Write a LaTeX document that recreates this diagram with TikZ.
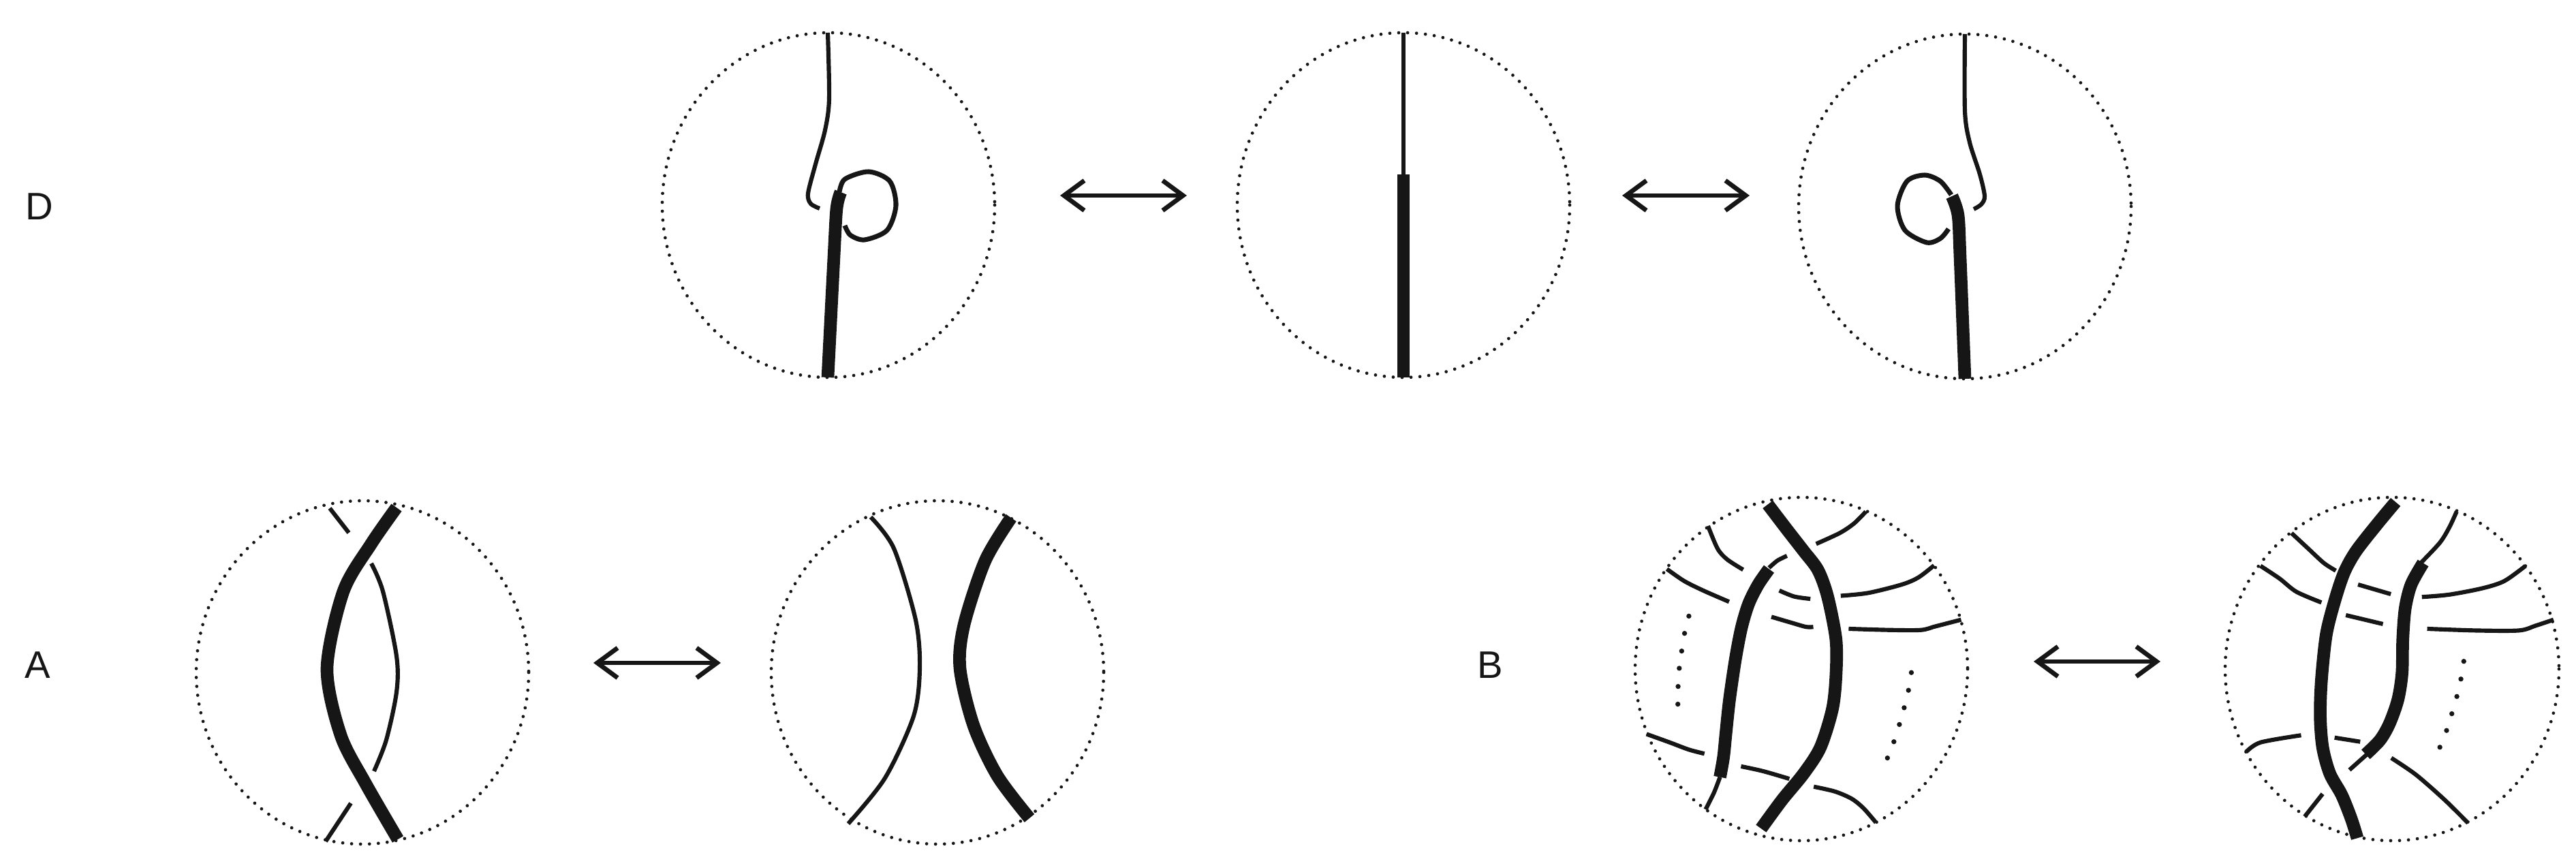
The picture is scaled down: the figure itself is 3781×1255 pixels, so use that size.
\documentclass[tikz,border=0pt]{standalone}
\usepackage{fontspec}
\setmainfont{Liberation Sans}
\usetikzlibrary{arrows.meta}
\definecolor{ink}{HTML}{161616}
\tikzset{
  ring/.style={draw=ink,line width=1.35pt,line cap=round,dash pattern=on 0pt off 3.72pt},
  thinstrand/.style={draw=ink,line width=1.75pt,line join=round},
  loopstrand/.style={draw=ink,line width=2pt,line join=round},
  thickstrand/.style={draw=ink,line width=5.3pt,line join=round},
  bigdot/.style={fill=ink},
  swap/.style={draw=ink,line width=1.65pt,{Straight Barb[length=8.5pt,width=12.5pt,line width=1.9pt]}-{Straight Barb[length=8.5pt,width=12.5pt,line width=1.9pt]}},
  label/.style={font=\fontsize{16}{16}\selectfont,text=ink,inner sep=0pt},
  zoomed/.style={x=0.0035088cm,y=-0.0035088cm}
}
\begin{document}
\begin{tikzpicture}[x=0.01cm,y=-0.01cm]
\useasboundingbox (0,0) rectangle (3781,1255);
% labels
\node[label] (lD) at (58,303) {D};
\node[label] (lA) at (55,976) {A};
\node[label] (lB) at (2187,976) {B};
% rings
\draw[ring] (1216,301) ellipse [x radius=244,y radius=253];
\draw[ring] (2060,301) ellipse [x radius=244,y radius=253];
\draw[ring] (2884,303) ellipse [x radius=244,y radius=253];
\draw[ring] (532,987) ellipse [x radius=244,y radius=252];
\draw[ring] (1376,987) ellipse [x radius=244,y radius=252];
\draw[ring] (2644,982) ellipse [x radius=244,y radius=252];
\draw[ring] (3511,982) ellipse [x radius=245,y radius=252];
% arrows
\coordinate (a1l) at (1556,287); \coordinate (a1r) at (1742,287);
\coordinate (a2l) at (2381,287); \coordinate (a2r) at (2568,287);
\coordinate (a3l) at (871,973); \coordinate (a3r) at (1058,973);
\coordinate (a4l) at (2985,971); \coordinate (a4r) at (3171,971);
\draw[swap] (a1l) -- (a1r);
\draw[swap] (a2l) -- (a2r);
\draw[swap] (a3l) -- (a3r);
\draw[swap] (a4l) -- (a4r);
% D left
\draw[thinstrand] plot[smooth] coordinates {(1215,48) (1217,145) (1211,191) (1197,241) (1186,284) (1190,299) (1203,306)};
\draw[loopstrand] plot[smooth] coordinates {(1232,282) (1240,263) (1275,252) (1306,266) (1315,302) (1302,338) (1269,352) (1248,345) (1240,331)};
\draw[thickstrand] plot[smooth] coordinates {(1215,554) (1224,377) (1228,306) (1234,282)};
% D centre
\draw[thinstrand] (2060,48) -- (2060,256);
\draw[thickstrand] (2060,256) -- (2060,554);
% D right
\draw[thinstrand] plot[smooth] coordinates {(2884,50) (2884,163) (2891,209) (2906,256) (2913,288) (2908,300) (2897,307)};
\draw[loopstrand] plot[smooth] coordinates {(2864,286) (2848,266) (2825,257) (2799,266) (2785,302) (2796,338) (2828,356) (2848,350) (2860,336)};
\draw[thickstrand] plot[smooth] coordinates {(2884,556) (2877,377) (2874,316) (2865,288)};
% A left
\draw[thickstrand] plot[smooth] coordinates {(582,745) (545,798) (504,868) (480,981) (500,1079) (536,1149) (584,1232)};
\draw[thinstrand] (484,746) -- (512,782);
\draw[thinstrand] plot[smooth] coordinates {(545,827) (562,868) (582,963) (582,1016) (567,1086) (549,1132)};
\draw[thinstrand] (515,1179) -- (478,1235);
% A right
\draw[thinstrand] plot[smooth] coordinates {(1278,759) (1312,805) (1344,910) (1350,981) (1341,1051) (1299,1142) (1245,1209)};
\draw[thickstrand] plot[smooth] coordinates {(1484,760) (1446,823) (1415,917) (1409,981) (1429,1065) (1464,1139) (1511,1201)};
% B left
\begin{scope}[shift={(2370,700)},zoomed]
\draw[thickstrand] plot[smooth] coordinates {(640,115) (720,220) (790,310) (850,390) (890,500) (925,680) (925,830) (910,970) (860,1130) (790,1240) (700,1350) (612,1470)};
\draw[thinstrand] plot[smooth] coordinates {(440,1255) (415,1320) (380,1390)};
\draw[thinstrand] plot[smooth] coordinates {(645,380) (680,350) (720,330)};
\draw[thickstrand] plot[smooth] coordinates {(645,385) (600,450) (560,530) (530,630) (505,760) (480,930) (465,1070) (455,1170) (440,1255)};
\draw[thinstrand] plot[smooth] coordinates {(390,205) (430,300) (470,345) (537,388)};
\draw[thinstrand] plot[smooth] coordinates {(218,385) (290,435) (370,475) (478,522)};
\draw[thinstrand] plot[smooth] coordinates {(1050,145) (1000,195) (940,235) (842,280)};
\draw[thinstrand] plot[smooth] coordinates {(688,475) (750,500) (818,510)};
\draw[thinstrand] plot[smooth] coordinates {(655,585) (740,610) (800,627) (830,627)};
\draw[thinstrand] plot[smooth] coordinates {(945,497) (1060,485) (1200,450) (1270,420) (1335,370)};
\draw[thinstrand] plot[smooth] coordinates {(978,635) (1150,640) (1280,640) (1340,625) (1448,597)};
\draw[thinstrand] plot[smooth] coordinates {(133,1075) (230,1110) (310,1140) (375,1157)};
\draw[thinstrand] plot[smooth] coordinates {(528,1210) (620,1230) (730,1262)};
\draw[thinstrand] plot[smooth] coordinates {(832,1295) (920,1315) (990,1345) (1040,1385) (1092,1445)};
\foreach \p in {(310,582),(292,654),(280,728),(270,800),(265,876),(264,950),(1240,818),(1228,892),(1210,965),(1190,1035),(1167,1107),(1140,1175)}
  \fill[bigdot] \p circle[radius=10.5];
\end{scope}
% B right
\begin{scope}[shift={(3230,700)},zoomed]
\draw[thickstrand] plot[smooth] coordinates {(815,105) (740,195) (650,310) (600,400) (560,520) (525,660) (505,850) (500,1000) (510,1130) (540,1240) (590,1330) (630,1430) (655,1510)};
\draw[thinstrand] plot[smooth] coordinates {(1070,145) (1040,210) (1000,275) (920,360)};
\draw[thickstrand] plot[smooth] coordinates {(930,360) (880,450) (855,550) (845,680) (842,820) (825,930) (790,1030) (750,1100) (690,1160)};
\draw[thinstrand] plot[smooth] coordinates {(380,235) (450,300) (515,360) (565,392)};
\draw[thinstrand] plot[smooth] coordinates {(250,372) (330,425) (400,480) (505,525)};
\draw[thinstrand] (658,450) -- (795,490);
\draw[thinstrand] (607,578) -- (762,615);
\draw[thinstrand] plot[smooth] coordinates {(925,502) (1040,492) (1180,465) (1270,435) (1358,372)};
\draw[thinstrand] plot[smooth] coordinates {(947,635) (1150,642) (1330,642) (1400,622) (1475,597)};
\draw[thinstrand] plot[smooth] coordinates {(420,1080) (250,1110) (190,1150)};
\draw[thinstrand] (560,1090) -- (667,1107);
\draw[thinstrand] (695,1160) -- (622,1225);
\draw[thinstrand] (510,1325) -- (435,1420);
\draw[thinstrand] plot[smooth] coordinates {(797,1175) (900,1245) (1020,1350) (1118,1447)};
\foreach \p in {(1100,771),(1088,845),(1071,918),(1050,990),(1028,1060),(1000,1130)}
  \fill[bigdot] \p circle[radius=10.5];
\end{scope}
\end{tikzpicture}
\end{document}
